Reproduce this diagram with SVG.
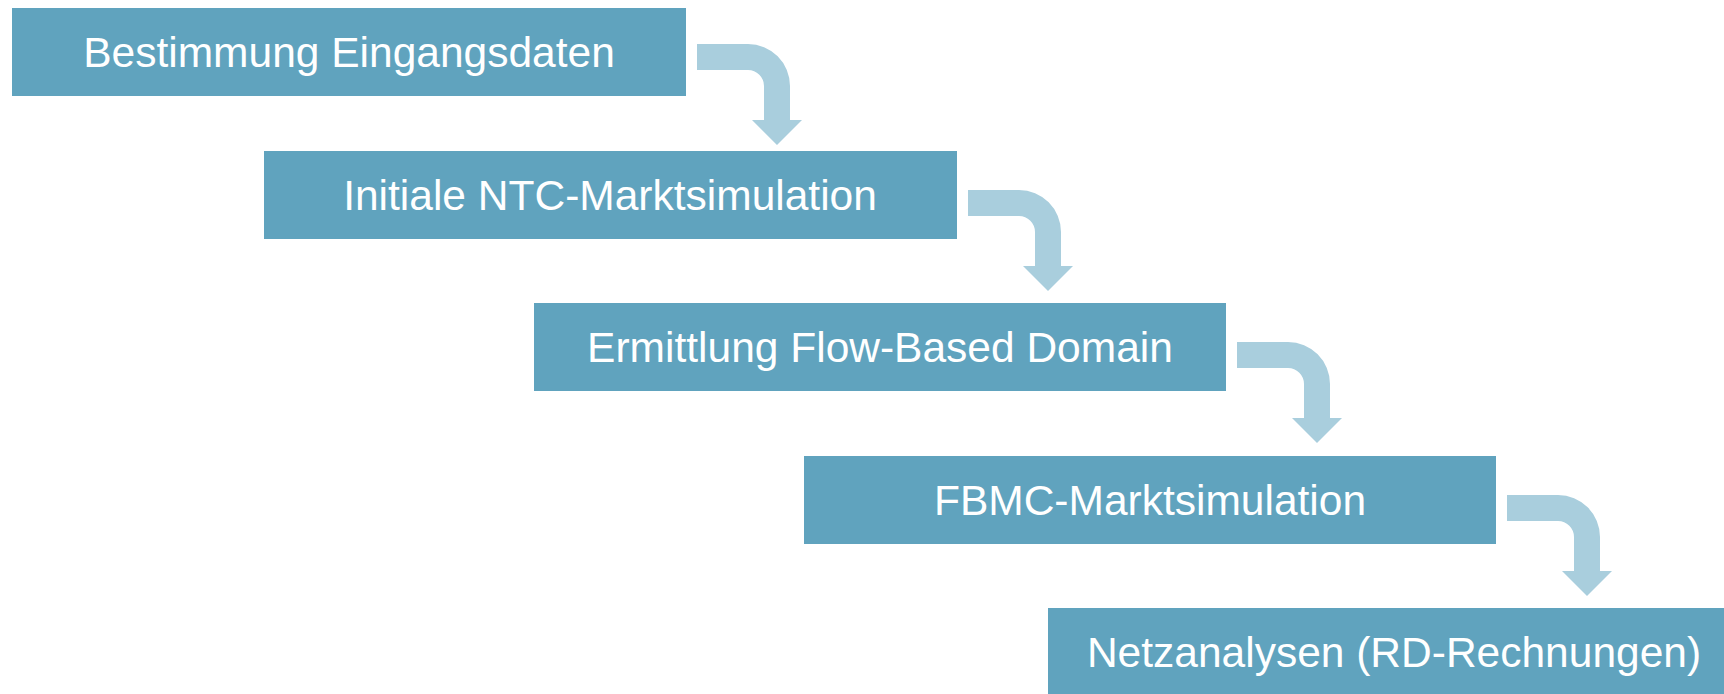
<svg xmlns="http://www.w3.org/2000/svg" xmlns:xlink="http://www.w3.org/1999/xlink" width="1724" height="694" viewBox="0 0 1724 694">
<style>
.box{fill:#60A3BE}
.lbl{fill:#FFFFFF;font-family:"Liberation Sans",Arial,sans-serif;font-size:42.5px;text-anchor:middle}
.arr{fill:#A9CEDD}
</style>
<defs>
<path id="bend" d="M0,0 H51 A42,42 0 0 1 93,42 V76 H105 L80,101 L55,76 H67 V42 A16,16 0 0 0 51,26 H0 Z"/>
</defs>
<rect width="1724" height="694" fill="#FFFFFF"/>
<g id="connectors">
<use xlink:href="#bend" class="arr" transform="translate(697,44)"/>
<use xlink:href="#bend" class="arr" transform="translate(968,190)"/>
<use xlink:href="#bend" class="arr" transform="translate(1237,342)"/>
<use xlink:href="#bend" class="arr" transform="translate(1507,495)"/>
</g>
<g id="n1"><rect class="box" x="12" y="8" width="674" height="88"/><text class="lbl" x="349" y="67">Bestimmung Eingangsdaten</text></g>
<g id="n2"><rect class="box" x="264" y="151" width="693" height="88"/><text class="lbl" x="610" y="210">Initiale NTC-Marktsimulation</text></g>
<g id="n3"><rect class="box" x="534" y="303" width="692" height="88"/><text class="lbl" x="880" y="362">Ermittlung Flow-Based Domain</text></g>
<g id="n4"><rect class="box" x="804" y="456" width="692" height="88"/><text class="lbl" x="1150" y="515">FBMC-Marktsimulation</text></g>
<g id="n5"><rect class="box" x="1048" y="608" width="692" height="88"/><text class="lbl" x="1394" y="667">Netzanalysen (RD-Rechnungen)</text></g>
</svg>
